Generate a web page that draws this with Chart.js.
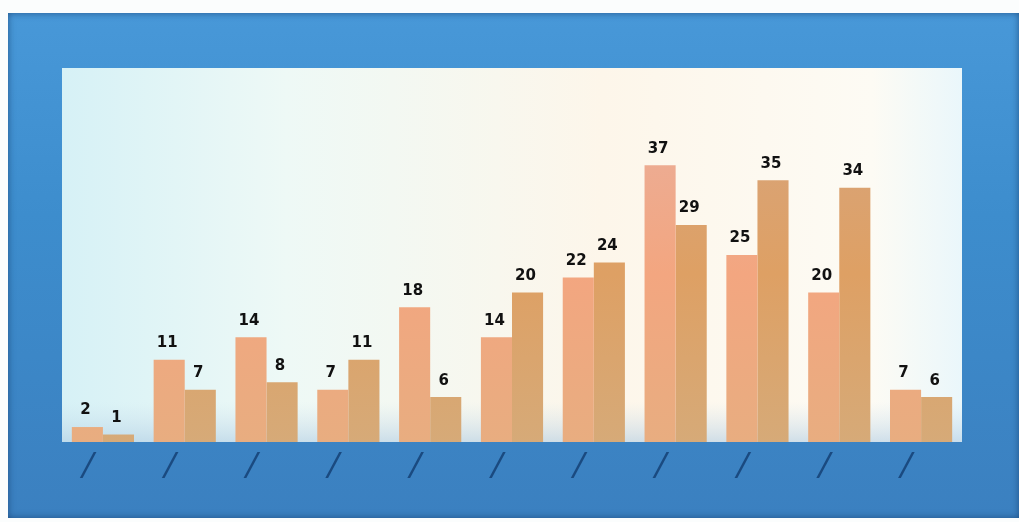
<!DOCTYPE html>
<html>
<head>
<meta charset="utf-8">
<script src="https://cdn.jsdelivr.net/npm/chart.js@4.4.1/dist/chart.umd.min.js"></script>
<style>
    html, body { margin: 0; padding: 0; background: #fbfdfd; }
    #wrap { position: relative; width: 1019px; height: 522px; }
    #frame {
        position: absolute; left: 8px; top: 13px; width: 1011px; height: 505px;
        background: linear-gradient(180deg, #4898d8 0%, #3d8dcd 40%, #3b80c0 100%);
        box-shadow: inset 0 0 7px rgba(20, 60, 110, 0.7);
    }
    canvas { position: absolute; left: 0; top: 0; }
</style>
</head>
<body>
<div id="wrap">
    <div id="frame"></div>
    <canvas id="chart" width="1019" height="522"></canvas>
</div>
<script>
var categories = ["/", "/", "/", "/", "/", "/", "/", "/", "/", "/", "/"];
var seriesA = [2, 11, 14, 7, 18, 14, 22, 37, 25, 20, 7];
var seriesB = [1, 7, 8, 11, 6, 20, 24, 29, 35, 34, 6];
var yMax = 50;

function barGradient(ctx, area, top, mid, bottom) {
    var g = ctx.createLinearGradient(0, area.top, 0, area.bottom);
    g.addColorStop(0, top);
    g.addColorStop(0.55, mid);
    g.addColorStop(1, bottom);
    return g;
}

var backgroundPlugin = {
    id: "plotBackground",
    beforeDraw: function(chart) {
        var ctx = chart.ctx;
        var a = chart.chartArea;
        ctx.save();
        var g = ctx.createLinearGradient(a.left, 0, a.right, 0);
        g.addColorStop(0, "#d6f1f6");
        g.addColorStop(0.25, "#eef9f6");
        g.addColorStop(0.6, "#fdf6ea");
        g.addColorStop(0.9, "#fdfbf4");
        g.addColorStop(1, "#eaf7fb");
        ctx.fillStyle = g;
        ctx.fillRect(a.left, a.top, a.right - a.left, a.bottom - a.top);
        var v = ctx.createLinearGradient(0, a.bottom - 40, 0, a.bottom);
        v.addColorStop(0, "rgba(200,220,235,0)");
        v.addColorStop(1, "rgba(170,200,225,0.55)");
        ctx.fillStyle = v;
        ctx.fillRect(a.left, a.bottom - 40, a.right - a.left, 40);
        ctx.restore();
    }
};

var valueLabelPlugin = {
    id: "valueLabels",
    afterDatasetsDraw: function(chart) {
        var ctx = chart.ctx;
        ctx.save();
        ctx.font = "bold 15px 'DejaVu Sans', Arial, sans-serif";
        ctx.fillStyle = "#111111";
        ctx.textAlign = "center";
        ctx.textBaseline = "bottom";
        chart.data.datasets.forEach(function(ds, i) {
            chart.getDatasetMeta(i).data.forEach(function(bar, j) {
                ctx.fillText(ds.data[j], bar.x - 2, bar.y - 9);
            });
        });
        ctx.restore();
    }
};

var ctx = document.getElementById("chart").getContext("2d");

new Chart(ctx, {
    type: "bar",
    data: {
        labels: categories,
        datasets: [{
            label: "A",
            data: seriesA,
            backgroundColor: function(c) {
                var a = c.chart.chartArea;
                if (!a) return "#f2a57e";
                return barGradient(c.chart.ctx, a, "#e8b0a0", "#f3a680", "#e8ad80");
            },
            barPercentage: 1.0,
            categoryPercentage: 0.76
        }, {
            label: "B",
            data: seriesB,
            backgroundColor: function(c) {
                var a = c.chart.chartArea;
                if (!a) return "#dea064";
                return barGradient(c.chart.ctx, a, "#d6a682", "#dea064", "#d6aa78");
            },
            barPercentage: 1.0,
            categoryPercentage: 0.76
        }]
    },
    options: {
        responsive: false,
        animation: false,
        layout: { padding: { left: 62, right: 57, top: 68, bottom: 0 } },
        plugins: {
            legend: { display: false },
            tooltip: { enabled: false }
        },
        scales: {
            x: {
                grid: { display: false, drawTicks: false },
                border: { display: false },
                ticks: {
                    color: "#1a4a80",
                    font: { size: 40, style: "italic", weight: "bold", family: "'Liberation Serif', serif" },
                    padding: 2,
                    labelOffset: -15,
                    maxRotation: 0,
                    autoSkip: false
                },
                afterFit: function(scale) { scale.height = 80; }
            },
            y: {
                display: false,
                min: 0,
                max: yMax
            }
        }
    },
    plugins: [backgroundPlugin, valueLabelPlugin]
});
</script>
</body>
</html>
